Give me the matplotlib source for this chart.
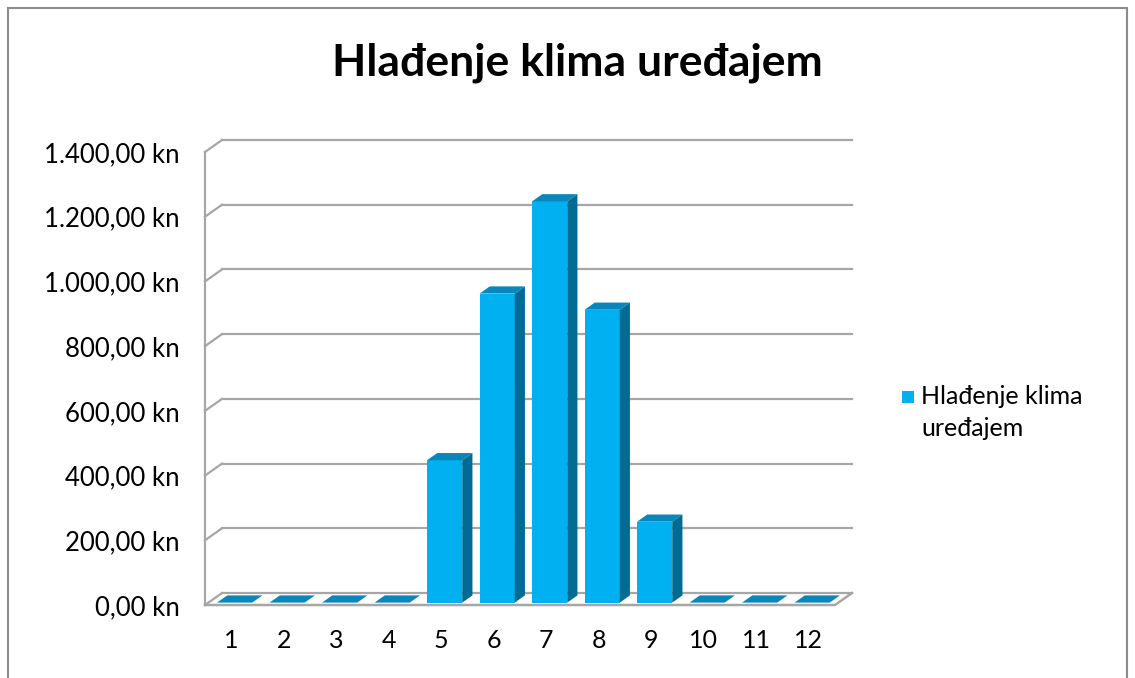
import numpy as np, matplotlib
matplotlib.use("Agg")
import matplotlib.pyplot as plt
from matplotlib.patches import Polygon, Rectangle
from matplotlib.lines import Line2D

plt.rcParams["font.family"] = ["Lato", "DejaVu Sans"]

# data
months = np.arange(1, 13)
costs = [0, 0, 0, 0, 440, 955, 1240, 905, 250, 0, 0, 0]
yticks = [0, 200, 400, 600, 800, 1000, 1200, 1400]
title = "Hlađenje klima uređajem"
series = ["Hlađenje klima", "uređajem"]

FRONT, TOP, SIDE = "#00B0F0", "#0A86BA", "#006C94"
GRID = "#A6A6A6"

W, H = 1135, 678
fig = plt.figure(figsize=(W / 100, H / 100), dpi=100)
# front plane of the pseudo-3d box, in pixels: x 205..835, y 605 (0) .. 152 (1400)
ax = fig.add_axes([205 / W, (H - 605) / H, 630 / W, (605 - 152) / H])
ax.set_xlim(0.5, 12.5); ax.set_ylim(0, 1400)
for s in ax.spines.values():
    s.set_visible(False)

dxw, dyw = 17 / 52.5, 12 / (453 / 1400)   # depth offset of back wall (data units)
f0, f1 = 0.2, 0.8                          # bar depth range
bw = 0.67

# back wall gridlines + left wall diagonals
for v in yticks:
    ax.plot([0.5 + dxw, 12.5 + dxw], [v + dyw, v + dyw], color=GRID, lw=1.6, clip_on=False, zorder=1)
    ax.plot([0.5, 0.5 + dxw], [v, v + dyw], color=GRID, lw=1.6, clip_on=False, zorder=1)
ax.plot([0.5, 0.5], [0, 1400], color=GRID, lw=1.6, clip_on=False, zorder=1)
# floor
ax.plot([0.5, 12.5, 12.5 + dxw], [0, 0, dyw], color=GRID, lw=1.8, clip_on=False, zorder=1)

# bars: front faces via bar(), top and side faces as polygons
xs = months + f0 * dxw
ax.bar(xs, costs, width=bw, bottom=f0 * dyw, color=FRONT, zorder=3, clip_on=False)
ddx, ddy = (f1 - f0) * dxw, (f1 - f0) * dyw
for x, v in zip(xs, costs):
    l, r = x - bw / 2, x + bw / 2
    b, t = f0 * dyw, f0 * dyw + v
    ax.add_patch(Polygon([(l, t), (r, t), (r + ddx, t + ddy), (l + ddx, t + ddy)],
                         closed=True, fc=TOP, ec="none", zorder=4, clip_on=False))
    if v > 0:
        ax.add_patch(Polygon([(r, b), (r + ddx, b + ddy), (r + ddx, t + ddy), (r, t)],
                             closed=True, fc=SIDE, ec="none", zorder=4, clip_on=False))

ax.set_xticks(months)
ax.set_xticklabels([str(m) for m in months])
ax.set_yticks(yticks)
ax.set_yticklabels([f"{v:,.2f} kn".replace(",", "X").replace(".", ",").replace("X", ".") for v in yticks])
ax.tick_params(axis="x", length=0, pad=17, labelsize=18)
ax.tick_params(axis="y", length=0, pad=18, labelsize=18.5)

fig.text(577 / W, 1 - 63 / H, title, fontsize=32, fontweight="bold", ha="center", va="center")

# legend
fig.add_artist(Rectangle((902 / W, 1 - 403 / H), 12 / W, 12 / H, transform=fig.transFigure, fc=FRONT, ec="none"))
for i, line in enumerate(series):
    fig.text(921 / W, 1 - (397 + 31 * i) / H, line, fontsize=18, ha="left", va="center")

# chart frame
for xx, yy in [([8, 1127], [8, 8]), ([8, 8], [8, 678]), ([1127, 1127], [8, 678])]:
    fig.add_artist(Line2D([x / W for x in xx], [1 - y / H for y in yy], color="#8C8C8C", lw=1.5))

fig.savefig("out.png", facecolor="white")
